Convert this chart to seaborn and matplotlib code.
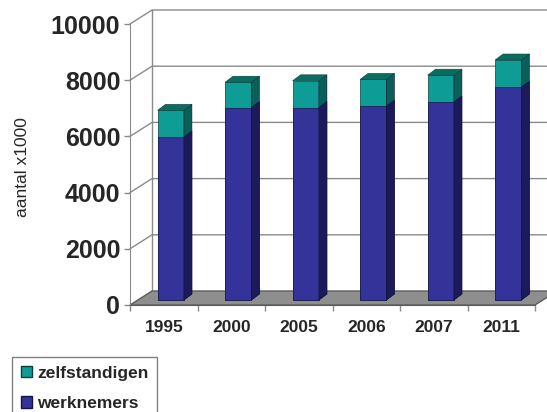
import numpy as np
import pandas as pd
import matplotlib
matplotlib.use("Agg")
import matplotlib.pyplot as plt
import seaborn as sns
from matplotlib.patches import Polygon, Patch
from matplotlib.lines import Line2D
from matplotlib.transforms import ScaledTranslation, IdentityTransform

years = ["1995", "2000", "2005", "2006", "2007", "2011"]
werknemers = [5800, 6850, 6850, 6900, 7050, 7570]
zelfstandigen = [950, 900, 950, 950, 950, 970]
yticks = [0, 2000, 4000, 6000, 8000, 10000]

df = pd.DataFrame({"jaar": years, "werknemers": werknemers,
                   "zelfstandigen": zelfstandigen})
df["totaal"] = df["werknemers"] + df["zelfstandigen"]

blue, blue_side = "#333399", "#1b1b5c"
teal, teal_side, teal_top = "#0e9d96", "#0a5f58", "#0b6d62"

sns.set_style("white")
plt.rcParams["font.family"] = ["Liberation Sans", "DejaVu Sans"]

fig = plt.figure(figsize=(5.47, 4.12), dpi=100)
W, H = 547, 412
ax = fig.add_axes([130 / W, 1 - 305 / H, 405 / W, 281 / H])

# stacked bars: totals (teal) first, then werknemers on top of them
sns.barplot(data=df, x="jaar", y="totaal", color=teal, saturation=1,
            width=0.39, edgecolor="#06403a", linewidth=0.5, ax=ax, zorder=3)
n_teal = len(ax.patches)
sns.barplot(data=df, x="jaar", y="werknemers", color=blue, saturation=1,
            width=0.39, edgecolor="#151545", linewidth=0.5, ax=ax, zorder=4)

ax.set_xlim(-0.5, len(years) - 0.5)
ax.set_ylim(0, 10000)
ax.set_xlabel("")
ax.set_ylabel("")

# pseudo-3D offsets in pixels
back = np.array([22, 14])   # depth of the floor / walls
front = np.array([7, 5])    # front face of the bars
depth = np.array([8, 6])    # bar depth

def disp(x, y):
    return np.array(ax.transData.transform((x, y)))

ident = IdentityTransform()
grid_c = "#8a8a8a"

# left wall and back wall gridlines
for v in yticks:
    p0 = disp(-0.5, v)
    p1 = p0 + back
    p2 = disp(len(years) - 0.5, v) + back + np.array([40, 0])
    if v > 0:
        ax.add_line(Line2D([p0[0], p1[0], p2[0]], [p0[1], p1[1], p2[1]],
                           color=grid_c, lw=1, transform=ident,
                           clip_on=False, zorder=0.5))
b0 = disp(-0.5, 0) + back
b1 = disp(-0.5, 10000) + back
ax.add_line(Line2D([b0[0], b1[0]], [b0[1], b1[1]], color=grid_c, lw=1,
                   transform=ident, clip_on=False, zorder=0.5))

# floor
f0, f1 = disp(-0.5, 0), disp(len(years) - 0.5, 0)
floor = Polygon([f0, f1, f1 + back, f0 + back], closed=True,
                facecolor="#8e8e8e", edgecolor="#5c5c5c", lw=1,
                transform=ident, clip_on=False, zorder=1)
ax.add_patch(floor)

# shift bar fronts and add side / top faces
shift = ScaledTranslation(front[0] / 100, front[1] / 100, fig.dpi_scale_trans)
for i, p in enumerate(list(ax.patches)):
    if not hasattr(p, "get_width"):
        continue
    is_teal = i < n_teal
    z = 3 if is_teal else 4
    x0, y0 = p.get_x(), p.get_y()
    x1, y1 = x0 + p.get_width(), y0 + p.get_height()
    p.set_transform(ax.transData + shift)
    p.set_clip_on(False)
    bl = disp(x0, y0) + front
    br = disp(x1, y0) + front
    tr = disp(x1, y1) + front
    tl = disp(x0, y1) + front
    side = Polygon([br, br + depth, tr + depth, tr], closed=True,
                   facecolor=teal_side if is_teal else blue_side,
                   edgecolor="#101030", lw=0.4, transform=ident,
                   clip_on=False, zorder=z)
    ax.add_patch(side)
    if is_teal:
        top = Polygon([tl, tr, tr + depth, tl + depth], closed=True,
                      facecolor=teal_top, edgecolor="#06403a", lw=0.4,
                      transform=ident, clip_on=False, zorder=z)
        ax.add_patch(top)

# axes styling
for s in ["top", "right"]:
    ax.spines[s].set_visible(False)
ax.spines["left"].set_color(grid_c)
ax.spines["bottom"].set_color("#5c5c5c")
ax.spines["left"].set_zorder(2)
ax.spines["bottom"].set_zorder(2)

ax.set_yticks(yticks)
ax.set_yticklabels([str(v) for v in yticks], fontsize=18, fontweight="bold")
ax.tick_params(axis="y", left=True, length=4, width=1, color=grid_c, pad=3)

ax.set_xticks(range(len(years)))
ax.set_xticklabels(years, fontsize=12.5, fontweight="bold")
ax.set_xticks(np.arange(-0.5, len(years)), minor=True)
ax.tick_params(axis="x", which="major", length=0, pad=11)
ax.tick_params(axis="x", which="minor", bottom=True, length=4, width=1,
               color=grid_c)

fig.text(23 / W, 1 - 167 / H, "aantal x1000", rotation=90, fontsize=12.5,
         ha="center", va="center")

handles = [Patch(facecolor=teal, edgecolor="#06403a", label="zelfstandigen"),
           Patch(facecolor=blue, edgecolor="#151545", label="werknemers")]
leg = fig.legend(handles=handles, loc="upper left",
                 bbox_to_anchor=(12 / W, 1 - 357 / H),
                 bbox_transform=fig.transFigure, fancybox=False,
                 edgecolor="#808080", framealpha=1,
                 prop={"size": 12.5, "weight": "bold"},
                 handlelength=0.65, handleheight=0.65, handletextpad=0.3,
                 labelspacing=0.9, borderpad=0.5, borderaxespad=0)
leg.get_frame().set_linewidth(1)

fig.savefig("out.png", dpi=100)
